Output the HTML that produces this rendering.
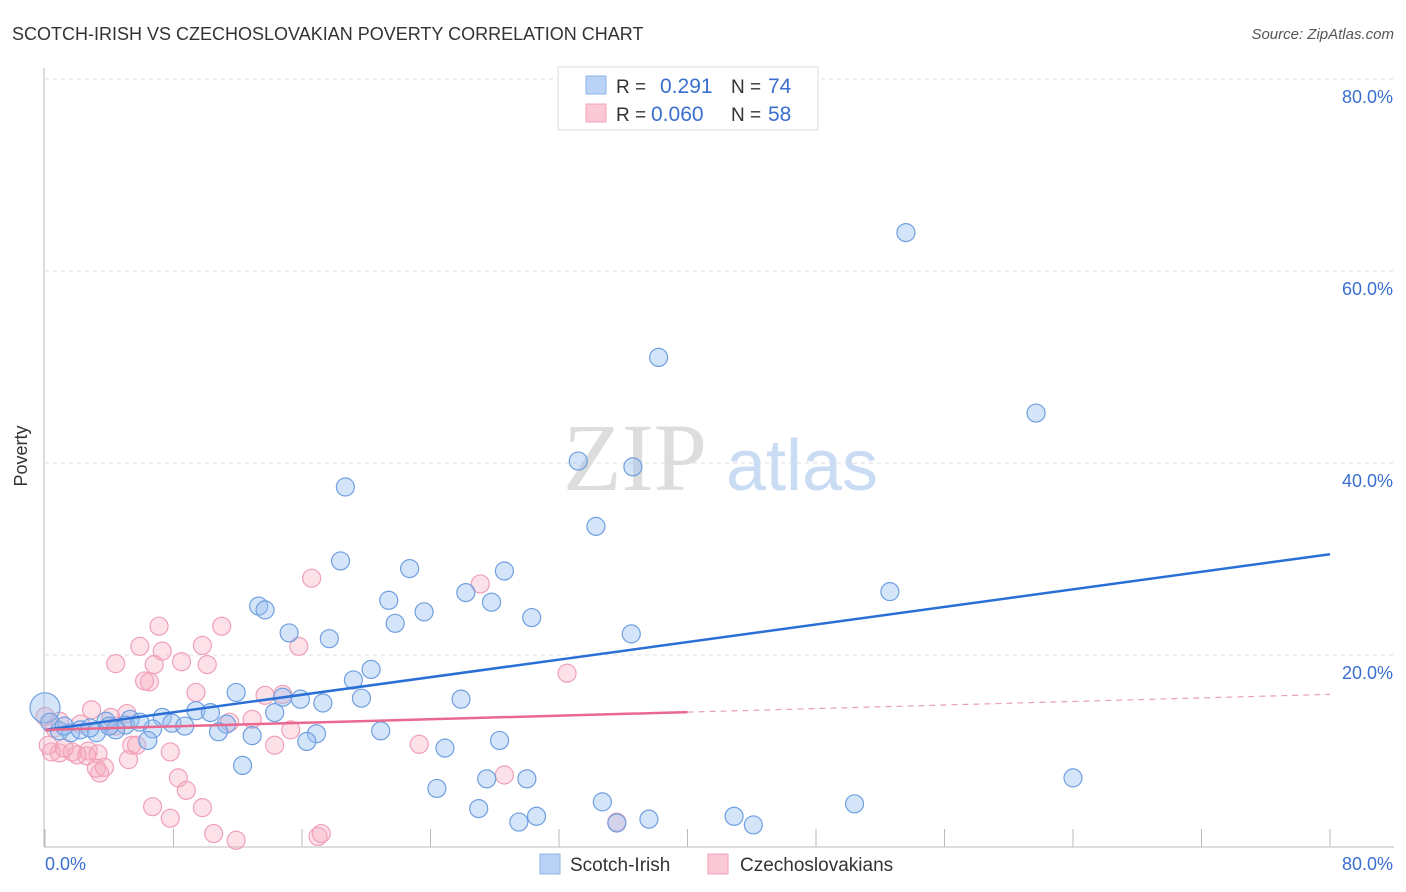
<!DOCTYPE html>
<html><head><meta charset="utf-8"><style>
body{margin:0;background:#fff;font-family:"Liberation Sans",sans-serif;}
svg{display:block}
</style></head><body>
<svg id="chart" width="1406" height="892">
<text x="12" y="40" font-size="18" fill="#333">SCOTCH-IRISH VS CZECHOSLOVAKIAN POVERTY CORRELATION CHART</text>
<text x="1394" y="39" font-size="15" fill="#555" font-style="italic" text-anchor="end">Source: ZipAtlas.com</text>
<g id="grid"></g>
<text x="635" y="490" font-size="96" fill="#ddd" font-family="Liberation Serif, serif" text-anchor="middle">ZIP</text>
<text x="802" y="490" font-size="72" fill="#c9dcf3" text-anchor="middle">atlas</text>
<g id="pts"></g>
<g id="trends"></g>
<text x="27" y="456" font-size="18" fill="#333" text-anchor="middle" transform="rotate(-90 27 456)">Poverty</text>
<text x="45" y="870" font-size="18" fill="#3a6fd0">0.0%</text>
<text x="1393" y="870" font-size="18" fill="#3a6fd0" text-anchor="end">80.0%</text>
<g>
<rect x="558" y="67" width="260" height="63" fill="#fff" stroke="#ddd"/>
<rect x="586" y="76" width="20" height="18" fill="#b8d3f5" stroke="#8fb4e8"/>
<rect x="586" y="104" width="20" height="18" fill="#fbc8d6" stroke="#f2a3b8"/>
<text x="616" y="93" font-size="19" fill="#333">R =</text>
<text x="660" y="93" font-size="21" fill="#3a6fd0">0.291</text>
<text x="731" y="93" font-size="19" fill="#333">N =</text>
<text x="768" y="93" font-size="21" fill="#3a6fd0">74</text>
<text x="616" y="121" font-size="19" fill="#333">R =</text>
<text x="651" y="121" font-size="21" fill="#3a6fd0">0.060</text>
<text x="731" y="121" font-size="19" fill="#333">N =</text>
<text x="768" y="121" font-size="21" fill="#3a6fd0">58</text>
</g>
<g>
<rect x="540" y="854" width="20" height="20" fill="#b8d3f5" stroke="#8fb4e8"/>
<text x="570" y="871" font-size="19" fill="#333">Scotch-Irish</text></g>
<g>
<rect x="708" y="854" width="20" height="20" fill="#fbc8d6" stroke="#f2a3b8"/>
<text x="740" y="871" font-size="19" fill="#333">Czechoslovakians</text></g>
</svg>
<script>
const yTicks=[20,40,60,80];
const yTickLabels=["20.0%","40.0%","60.0%","80.0%"];
const xTicks=[0,8,16,24,32,40,48,56,64,72,80];
const blueX=[53.6,38.2,61.7,33.2,36.6,18.7,34.3,18.4,22.7,28.6,52.6,26.2,21.4,27.8,13.3,13.7,23.6,30.3,21.8,15.2,36.5,17.7,20.3,19.2,11.9,19.7,25.9,15.9,14.8,17.3,9.4,10.3,14.3,7.3,5.3,3.8,7.9,8.7,5.0,11.3,6.7,0.9,1.6,2.2,3.2,4.4,10.8,12.9,16.9,20.9,16.3,6.4,24.9,28.3,12.3,64.0,27.5,30.0,24.4,34.7,27.0,50.4,30.6,29.5,37.6,42.9,44.1,35.6,0.0,0.3,1.2,2.8,4.0,5.9];
const blueY=[64.0,51.0,45.2,40.2,39.6,37.5,33.4,29.8,29.0,28.75,26.6,26.5,25.7,25.5,25.1,24.7,24.5,23.9,23.3,22.3,22.2,21.7,18.5,17.4,16.1,15.5,15.4,15.4,15.6,15.0,14.2,14.0,14.0,13.5,13.3,13.1,12.9,12.6,12.7,12.8,12.3,12.1,11.9,12.2,11.9,12.2,12.0,11.6,11.8,12.1,11.0,11.1,10.3,11.1,8.5,7.2,7.1,7.1,6.1,4.7,4.0,4.5,3.2,2.6,2.9,3.2,2.3,2.5,14.5,13.0,12.6,12.4,12.6,13.0];
const pinkX=[16.6,27.1,7.1,11.0,15.8,5.9,9.8,7.3,32.5,4.4,6.8,8.5,10.1,6.2,6.5,9.4,13.7,14.8,2.9,5.1,4.1,12.9,15.3,11.5,2.2,0.9,0.0,5.4,5.7,7.8,23.3,14.3,2.7,0.4,0.9,1.7,2.0,2.6,3.3,5.2,3.4,3.2,3.7,28.6,8.3,8.8,6.7,9.8,7.8,10.5,11.9,17.0,17.2,35.6,0.2,1.2,4.4,0.6];
const pinkY=[28.0,27.4,23.0,23.0,20.9,20.9,21.0,20.4,18.1,19.1,19.0,19.3,19.0,17.3,17.2,16.1,15.8,15.9,14.3,13.9,13.5,13.3,12.2,13.0,12.8,13.1,13.6,10.6,10.6,9.9,10.7,10.6,10.0,9.9,9.8,9.9,9.6,9.5,9.7,9.1,7.7,8.2,8.3,7.5,7.2,5.9,4.2,4.1,3.0,1.4,0.7,1.1,1.4,2.6,10.6,10.3,12.6,12.4];
const blueTrend=[12.2,30.5];
const pinkTrend=[12.2,15.9];
const pinkSolidEnd=40;
const NS="http://www.w3.org/2000/svg";
const X=v=>45+v*1285/80, Y=v=>847-v*768/80;
function mk(t,a,p){const e=document.createElementNS(NS,t);for(const k in a)e.setAttribute(k,a[k]);p.appendChild(e);return e;}
const g=document.getElementById('grid');
yTicks.forEach((t,i)=>{
 const l=mk('line',{x1:45,x2:1394,y1:Y(t),y2:Y(t),stroke:'#ddd','stroke-dasharray':'4,4'},g);
 
 
 const tx=mk('text',{x:1393,y:Y(t)+24,'font-size':18,fill:'#3a6fd0','text-anchor':'end'},g);
 tx.textContent=yTickLabels[i];
 
 
});
xTicks.forEach(t=>{const l=mk('line',{x1:X(t),x2:X(t),y1:829,y2:847,stroke:'#bbb'},g);
 
 });
const ax=mk('line',{x1:44,x2:44,y1:68,y2:847,stroke:'#bbb'},g);


const bx=mk('line',{x1:44,x2:1394,y1:847,y2:847,stroke:'#bbb'},g);


const P=document.getElementById('pts');
pinkX.forEach((x,i)=>{const c=mk('circle',{cx:X(x),cy:Y(pinkY[i]),r:9,fill:'rgba(247,168,192,0.35)',stroke:'#f0a0b8','stroke-width':1.2},P);
 
 });
blueX.forEach((x,i)=>{const c=mk('circle',{cx:X(x),cy:Y(blueY[i]),r:(x===0?15:9),fill:'rgba(150,190,240,0.4)',stroke:'#6f9fe0','stroke-width':1.2},P);
 
 });
const T=document.getElementById('trends');
const bl=mk('line',{x1:X(0),y1:Y(blueTrend[0]),x2:X(80),y2:Y(blueTrend[1]),stroke:'#2a6fd6','stroke-width':2.5},T);


const pm=pinkTrend[0]+(pinkTrend[1]-pinkTrend[0])*pinkSolidEnd/80;
const pl=mk('line',{x1:X(0),y1:Y(pinkTrend[0]),x2:X(pinkSolidEnd),y2:Y(pm),stroke:'#e8688f','stroke-width':2.5},T);


const pd=mk('line',{x1:X(pinkSolidEnd),y1:Y(pm),x2:X(80),y2:Y(pinkTrend[1]),stroke:'#e8a0b5','stroke-width':1.2,'stroke-dasharray':'6,5'},T);


</script>
</body></html>
